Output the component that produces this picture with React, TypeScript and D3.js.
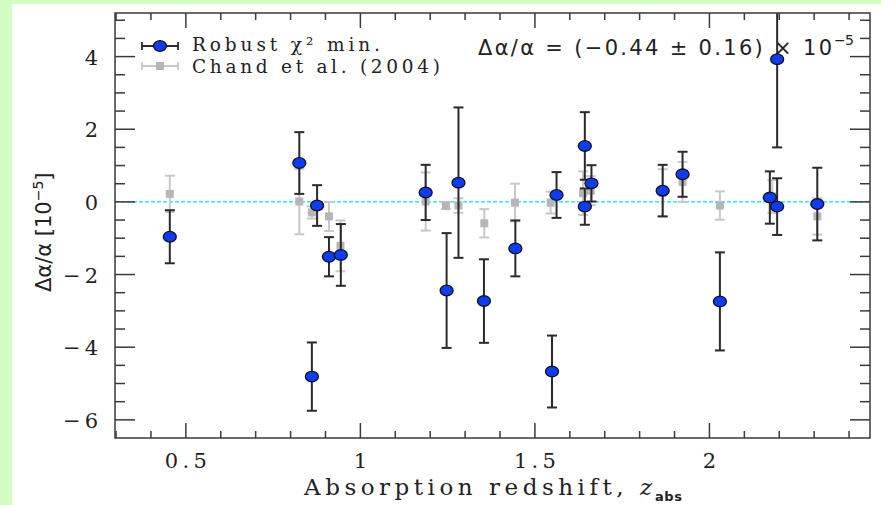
import React from "react";
import * as d3 from "d3";

const robustZ = [0.454, 0.825, 0.861, 0.876, 0.910, 0.944, 1.187, 1.247, 1.281, 1.354, 1.444, 1.549, 1.562, 1.643, 1.643, 1.662, 1.866, 1.923, 2.030, 2.173, 2.194, 2.194, 2.309];
const robustDa = [-0.96, 1.07, -4.81, -0.10, -1.51, -1.46, 0.26, -2.44, 0.53, -2.73, -1.28, -4.67, 0.19, 1.54, -0.13, 0.51, 0.31, 0.76, -2.74, 0.12, -0.13, 3.93, -0.06];
const robustErr = [0.73, 0.85, 0.94, 0.56, 0.54, 0.85, 0.76, 1.58, 2.07, 1.15, 0.77, 0.99, 0.63, 0.93, 0.50, 0.50, 0.71, 0.62, 1.35, 0.72, 0.78, 2.43, 1.00];

const chandZ = [0.454, 0.825, 0.861, 0.910, 0.943, 1.187, 1.245, 1.281, 1.355, 1.443, 1.545, 1.638, 1.660, 1.866, 1.923, 2.030, 2.180, 2.309];
const chandDa = [0.22, 0.01, -0.29, -0.40, -1.21, 0.01, -0.10, -0.10, -0.59, -0.02, -0.02, 0.24, 0.31, 0.25, 0.55, -0.10, 0.15, -0.40];
const chandErr = [0.50, 0.90, 0.17, 0.40, 0.70, 0.80, 0.10, 0.20, 0.39, 0.52, 0.30, 0.60, 0.40, 0.65, 0.55, 0.39, 0.45, 0.50];

const xMajor = [0.5, 1, 1.5, 2];
const xMajorLabels = ["0.5", "1", "1.5", "2"];
const yMajor = [-6, -4, -2, 0, 2, 4];
const yMajorLabels = ["\u22126", "\u22124", "\u22122", "0", "2", "4"];

const W = 881, H = 505;
const L = 115, R = 870, T = 13, B = 438;

export default function App() {
  const x = d3.scaleLinear().domain([0.297, 2.46]).range([L, R]);
  const y = d3.scaleLinear().domain([-6.5, 5.2]).range([B, T]);

  const xMinor = d3.range(3, 25).map((v) => v / 10).filter((v) => !xMajor.some((m) => Math.abs(m - v) < 1e-6));
  const yMinor = d3.range(-12, 11).map((v) => v / 2).filter((v) => !yMajor.some((m) => Math.abs(m - v) < 1e-6));

  const tickColor = "#3a3a3a";
  const cap = 5;

  return (
    <svg width={W} height={H} style={{ position: "absolute", left: 0, top: 0 }}>
      <defs>
        <clipPath id="plotclip">
          <rect x={L} y={T} width={R - L} height={B - T} />
        </clipPath>
      </defs>
      <rect x={0} y={0} width={W} height={H} fill="#d3fcc3" />
      <rect x={12} y={4} width={W - 12} height={H - 4} fill="#ffffff" />

      <line x1={L} x2={R} y1={y(0)} y2={y(0)} stroke="#00e5ff" strokeWidth={1.4} strokeDasharray="4,2" />

      <g clipPath="url(#plotclip)">
        {chandZ.map((z, i) => {
          const cx = x(z);
          const y1 = y(chandDa[i] + chandErr[i]);
          const y2 = y(chandDa[i] - chandErr[i]);
          return (
            <g key={"c" + i} stroke="#c8c8c8" strokeWidth={2}>
              <line x1={cx} x2={cx} y1={y1} y2={y2} />
              <line x1={cx - cap} x2={cx + cap} y1={y1} y2={y1} />
              <line x1={cx - cap} x2={cx + cap} y1={y2} y2={y2} />
              <rect x={cx - 4} y={y(chandDa[i]) - 4} width={8} height={8} fill="#b6b6b6" stroke="none" />
            </g>
          );
        })}
        {robustZ.map((z, i) => {
          const cx = x(z);
          const y1 = y(robustDa[i] + robustErr[i]);
          const y2 = y(robustDa[i] - robustErr[i]);
          return (
            <g key={"r" + i} stroke="#2a2a2a" strokeWidth={2}>
              <line x1={cx} x2={cx} y1={y1} y2={y2} />
              <line x1={cx - cap} x2={cx + cap} y1={y1} y2={y1} />
              <line x1={cx - cap} x2={cx + cap} y1={y2} y2={y2} />
            </g>
          );
        })}
        {robustZ.map((z, i) => (
          <ellipse key={"p" + i} cx={x(z)} cy={y(robustDa[i])} rx={6.5} ry={5.3} fill="#0b3cff" stroke="#111" strokeWidth={1.3} />
        ))}
      </g>

      <rect x={L} y={T} width={R - L} height={B - T} fill="none" stroke={tickColor} strokeWidth={1.5} />

      <g stroke={tickColor} strokeWidth={1.5}>
        {xMajor.map((v) => (
          <g key={"xm" + v}>
            <line x1={x(v)} x2={x(v)} y1={B} y2={B - 15} />
            <line x1={x(v)} x2={x(v)} y1={T} y2={T + 15} />
          </g>
        ))}
        {xMinor.map((v) => (
          <g key={"xn" + v}>
            <line x1={x(v)} x2={x(v)} y1={B} y2={B - 7} />
            <line x1={x(v)} x2={x(v)} y1={T} y2={T + 7} />
          </g>
        ))}
        {yMajor.map((v) => (
          <g key={"ym" + v}>
            <line x1={L} x2={L + 20} y1={y(v)} y2={y(v)} />
            <line x1={R} x2={R - 20} y1={y(v)} y2={y(v)} />
          </g>
        ))}
        {yMinor.map((v) => (
          <g key={"yn" + v}>
            <line x1={L} x2={L + 10} y1={y(v)} y2={y(v)} />
            <line x1={R} x2={R - 10} y1={y(v)} y2={y(v)} />
          </g>
        ))}
      </g>

      <g fontFamily="DejaVu Serif" fontSize={21} fill="#222">
        {xMajor.map((v, i) => (
          <text key={"xl" + v} x={x(v)} y={468} textAnchor="middle"
            {...(xMajorLabels[i].length > 1 ? { textLength: 42, lengthAdjust: "spacing" } : {})}>
            {xMajorLabels[i]}
          </text>
        ))}
        {yMajor.map((v, i) => (
          <text key={"yl" + v} x={98} y={y(v) + 8} textAnchor="end"
            {...(yMajorLabels[i].length > 1 ? { textLength: 35, lengthAdjust: "spacing" } : {})}>
            {yMajorLabels[i]}
          </text>
        ))}
      </g>

      <g fill="#222">
        <text x={304} y={495} fontFamily="DejaVu Serif" fontSize={23} textLength={348} lengthAdjust="spacing">
          Absorption redshift, <tspan fontStyle="italic">z</tspan>
        </text>
        <text x={655} y={501} fontFamily="DejaVu Sans" fontWeight="bold" fontSize={13} textLength={27} lengthAdjust="spacing">abs</text>
      </g>

      <g transform="translate(51,219) rotate(-90)" fill="#222">
        <text x={-73} y={0} fontFamily="DejaVu Sans" fontSize={21}>
          Δα/α [10<tspan dy={-8} fontSize={14}>−5</tspan><tspan dy={8}>]</tspan>
        </text>
      </g>

      <g>
        <g stroke="#2a2a2a" strokeWidth={1.8}>
          <line x1={142} x2={178} y1={46} y2={46} />
          <line x1={142} x2={142} y1={42} y2={50} />
          <line x1={178} x2={178} y1={42} y2={50} />
        </g>
        <ellipse cx={160} cy={46} rx={6.5} ry={5.3} fill="#0b3cff" stroke="#111" strokeWidth={1.3} />
        <g stroke="#c8c8c8" strokeWidth={1.8}>
          <line x1={142} x2={178} y1={66} y2={66} />
          <line x1={142} x2={142} y1={62} y2={70} />
          <line x1={178} x2={178} y1={62} y2={70} />
        </g>
        <rect x={156} y={62} width={8} height={8} fill="#b6b6b6" />
        <text x={192} y={51} fontFamily="DejaVu Serif" fontSize={18.5} fill="#222" textLength={188} lengthAdjust="spacing">
          Robust χ² min.
        </text>
        <text x={192} y={73} fontFamily="DejaVu Serif" fontSize={18.5} fill="#222" textLength={248} lengthAdjust="spacing">
          Chand et al. (2004)
        </text>
      </g>

      <g fill="#222" fontFamily="DejaVu Sans">
        <text x={478} y={55} fontSize={21} textLength={354} lengthAdjust="spacing">
          Δα/α = (−0.44 ± 0.16) × 10
        </text>
        <text x={834} y={45} fontSize={14} textLength={20} lengthAdjust="spacing">−5</text>
      </g>
    </svg>
  );
}
